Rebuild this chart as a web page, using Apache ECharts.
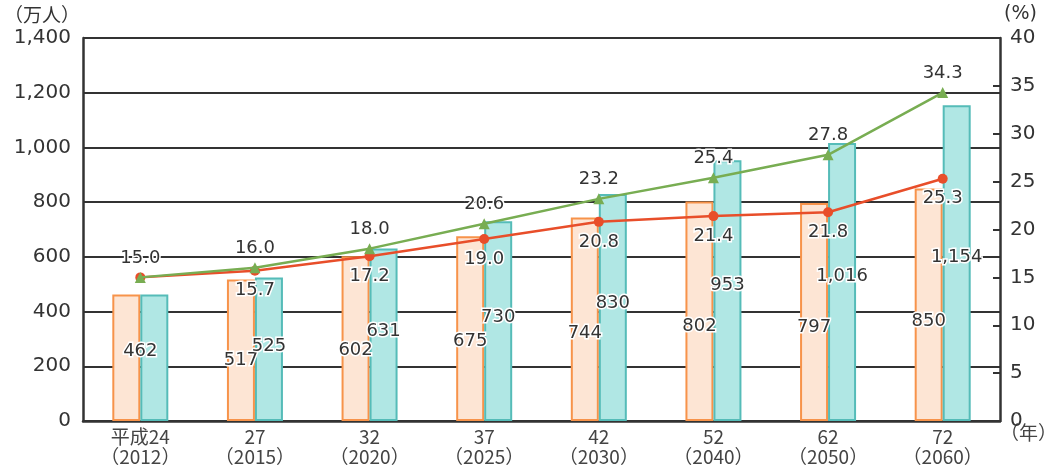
<!DOCTYPE html>
<html><head><meta charset="utf-8">
<script src="https://cdn.jsdelivr.net/npm/echarts@6/dist/echarts.min.js"></script>
<style>html,body{margin:0;padding:0;background:#fff}#c{width:1051px;height:470px}</style>
</head><body><div id="c"></div>
<script>
const categories = ['平成24\n（2012）','27\n（2015）','32\n（2020）','37\n（2025）','42\n（2030）','52\n（2040）','62\n（2050）','72\n（2060）'];
const peopleA = [462, 517, 602, 675, 744, 802, 797, 850];
const peopleB = [462, 525, 631, 730, 830, 953, 1016, 1154];
const rateA = [15.0, 15.7, 17.2, 19.0, 20.8, 21.4, 21.8, 25.3];
const rateB = [15.0, 16.0, 18.0, 20.6, 23.2, 25.4, 27.8, 34.3];
const leftTicks = [0, 200, 400, 600, 800, 1000, 1200, 1400];
const rightTicks = [0, 5, 10, 15, 20, 25, 30, 35, 40];

const axisColor = '#333';
const txt = '#333';
const labelBase = {
  show: true, color: txt, fontFamily: 'DejaVu Sans', fontSize: 18,
  textBorderColor: '#fff', textBorderWidth: 3
};
const fmt = v => Number(v).toLocaleString('en-US');

const chart = echarts.init(document.getElementById('c'));
chart.setOption({
  animation: false,
  grid: {left: 83, right: 51, top: 38, bottom: 49, containLabel: false},
  xAxis: {
    type: 'category', data: categories,
    axisLine: {lineStyle: {color: axisColor, width: 2.5}},
    axisTick: {show: false},
    axisLabel: {color: '#444', fontFamily: 'Noto Sans CJK JP', fontSize: 19, lineHeight: 20, margin: 6, interval: 0}
  },
  yAxis: [{
    type: 'value', min: leftTicks[0], max: leftTicks[leftTicks.length-1], interval: 200,
    axisLine: {show: true, lineStyle: {color: axisColor, width: 2.5}},
    axisTick: {show: false},
    splitLine: {lineStyle: {color: axisColor, width: 2}},
    axisLabel: {color: txt, fontFamily: 'DejaVu Sans', fontSize: 20, margin: 12, formatter: v => fmt(v)}
  }, {
    type: 'value', min: rightTicks[0], max: rightTicks[rightTicks.length-1], interval: 5,
    position: 'right',
    axisLine: {show: true, lineStyle: {color: axisColor, width: 2.5}},
    axisTick: {show: true, inside: true, length: 7, lineStyle: {color: axisColor, width: 2}},
    splitLine: {show: false},
    axisLabel: {color: txt, fontFamily: 'DejaVu Sans', fontSize: 20, margin: 10}
  }],
  graphic: [
    {type: 'text', left: 4, top: 5, style: {text: '（万人）', fill: txt, font: '19px "Noto Sans CJK JP"'}},
    {type: 'text', left: 1004, top: 5, style: {text: '(%)', fill: txt, font: '19px "DejaVu Sans"'}},
    {type: 'text', left: 1000, top: 423, style: {text: '（年）', fill: '#444', font: '19px "Noto Sans CJK JP"'}}
  ],
  series: [{
    type: 'bar', data: peopleA.map((v, i) => i === 0 ? {value: v, label: {position: ['100%', '45%']}} : v),
    barWidth: 28, barGap: '0%',
    itemStyle: {color: '#fde5d4', borderColor: '#f7934a', borderWidth: 2},
    label: Object.assign({}, labelBase, {position: ['50%', '57%'], align: 'center', verticalAlign: 'middle', formatter: p => fmt(p.value)}),
    z: 2
  }, {
    type: 'bar', data: peopleB.map((v, i) => i === 0 ? {value: v, label: {show: false}} : v),
    barWidth: 28, barGap: '0%',
    itemStyle: {color: '#b0e7e4', borderColor: '#55bcb8', borderWidth: 2},
    label: Object.assign({}, labelBase, {position: ['50%', '48%'], align: 'center', verticalAlign: 'middle', formatter: p => fmt(p.value)}),
    z: 2
  }, {
    type: 'line', yAxisIndex: 1, data: rateA.map((v, i) => i === 0 ? {value: v, label: {show: false}} : v),
    symbol: 'circle', symbolSize: 10,
    lineStyle: {color: '#e84e2a', width: 2.5}, itemStyle: {color: '#e84e2a'},
    label: Object.assign({}, labelBase, {position: 'bottom', distance: 6, formatter: p => p.value.toFixed(1)}),
    z: 5
  }, {
    type: 'line', yAxisIndex: 1, data: rateB,
    symbol: 'triangle', symbolSize: 11,
    lineStyle: {color: '#78ad52', width: 2.5}, itemStyle: {color: '#78ad52'},
    label: Object.assign({}, labelBase, {position: 'top', distance: 5, formatter: p => p.value.toFixed(1)}),
    z: 6
  }]
});
</script></body></html>
